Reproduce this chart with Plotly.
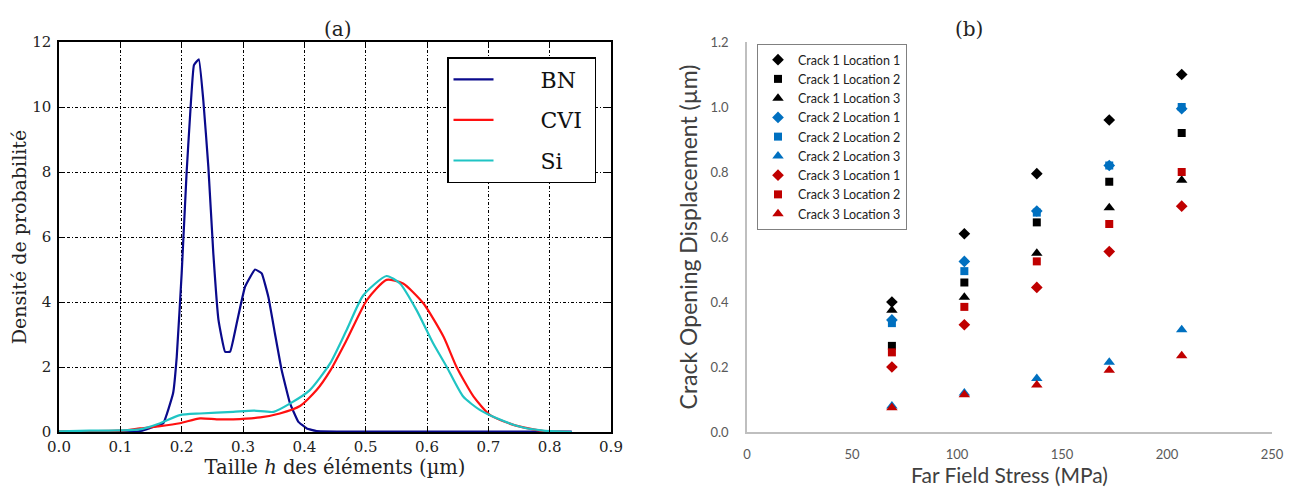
import plotly.graph_objects as go

# ---------------- (a) probability densities ----------------
bn_x = [0.0, 0.05, 0.10, 0.13, 0.148, 0.170, 0.186, 0.192, 0.200, 0.208, 0.2136, 0.220, 0.228,
        0.2353, 0.2435, 0.2516, 0.260, 0.2707, 0.279, 0.2897, 0.3033, 0.3196, 0.3305,
        0.3413, 0.352, 0.363, 0.3767, 0.390, 0.404, 0.42, 0.50, 0.60, 0.70, 0.80, 0.836]
bn_y = [0.0, 0.0, 0.0, 0.02, 0.12, 0.27, 1.19, 2.32, 4.88, 7.96, 9.70, 11.29, 11.47,
        10.2, 8.16, 5.5, 3.45, 2.47, 2.47, 3.34, 4.47, 5.0, 4.88,
        4.16, 3.04, 1.91, 0.88, 0.32, 0.11, 0.03, 0.01, 0.01, 0.01, 0.01, 0.01]

cvi_x = [0.0, 0.05, 0.10, 0.132, 0.165, 0.197, 0.23, 0.257, 0.284, 0.328, 0.36, 0.393,
         0.42, 0.442, 0.469, 0.502, 0.534, 0.561, 0.594, 0.627, 0.648, 0.676, 0.703,
         0.741, 0.79, 0.833]
cvi_y = [0.02, 0.03, 0.04, 0.11, 0.18, 0.27, 0.42, 0.39, 0.39, 0.45, 0.57, 0.80,
         1.29, 1.88, 2.83, 4.06, 4.68, 4.57, 3.96, 2.93, 2.01, 1.09, 0.52,
         0.22, 0.03, 0.0]

si_x = [0.0, 0.05, 0.10, 0.132, 0.165, 0.197, 0.23, 0.284, 0.317, 0.35, 0.377, 0.409,
        0.442, 0.469, 0.496, 0.534, 0.556, 0.583, 0.610, 0.632, 0.659, 0.686, 0.714,
        0.752, 0.79, 0.836]
si_y = [0.02, 0.04, 0.05, 0.08, 0.27, 0.52, 0.57, 0.62, 0.66, 0.62, 0.88, 1.29,
        2.11, 3.14, 4.2, 4.8, 4.57, 3.75, 2.73, 2.01, 1.09, 0.68, 0.42,
        0.16, 0.04, 0.0]

# ---------------- (b) crack opening displacement ----------------
stress = [69, 103.5, 138, 172.5, 207]
c1_l1 = [0.40, 0.61, 0.795, 0.96, 1.10]
c1_l2 = [0.265, 0.46, 0.645, 0.77, 0.92]
c1_l3 = [0.375, 0.415, 0.55, 0.69, 0.775]
c2_l1 = [0.345, 0.525, 0.68, 0.82, 0.995]
c2_l2 = [0.335, 0.495, 0.675, 0.82, 1.0]
c2_l3 = [0.08, 0.12, 0.165, 0.215, 0.315]
c3_l1 = [0.20, 0.33, 0.445, 0.555, 0.695]
c3_l2 = [0.245, 0.385, 0.525, 0.64, 0.80]
c3_l3 = [0.075, 0.115, 0.145, 0.19, 0.235]

series_b = [
    ("Crack 1 Location 1", c1_l1, "diamond", "black"),
    ("Crack 1 Location 2", c1_l2, "square", "black"),
    ("Crack 1 Location 3", c1_l3, "triangle-up", "black"),
    ("Crack 2 Location 1", c2_l1, "diamond", "#0070C0"),
    ("Crack 2 Location 2", c2_l2, "square", "#0070C0"),
    ("Crack 2 Location 3", c2_l3, "triangle-up", "#0070C0"),
    ("Crack 3 Location 1", c3_l1, "diamond", "#C00000"),
    ("Crack 3 Location 2", c3_l2, "square", "#C00000"),
    ("Crack 3 Location 3", c3_l3, "triangle-up", "#C00000"),
]

SERIF = "DejaVu Serif"
SANS = "Lato"
SIZES = {"diamond": 9, "square": 8, "triangle-up": 10}

W, H, OFF = 1304, 492, 8  # page body margin offsets the figure by ~8px


def px(x):
    return (x - OFF) / W


def py(y):
    return (H - (y - OFF)) / H


fig = go.Figure()

for name, xs, ys, col in [("BN", bn_x, bn_y, "#0a0a8c"), ("CVI", cvi_x, cvi_y, "#ff1010"),
                          ("Si", si_x, si_y, "#1fc4c4")]:
    fig.add_trace(go.Scatter(
        x=xs, y=ys, mode="lines", name="      " + name + " ",
        line=dict(color=col, width=2.2, shape="spline",
                  smoothing=0.6 if name != "BN" else 0.3),
        xaxis="x", yaxis="y", legend="legend", legendgroup=name,
    ))

for name, ys, sym, col in series_b:
    fig.add_trace(go.Scatter(
        x=stress, y=ys, mode="markers", name=name,
        marker=dict(symbol=sym, color=col, size=SIZES[sym]),
        xaxis="x2", yaxis="y2", legend="legend2",
    ))

grid_dash = "3px,2px,1px,2px"
Y_DOM = [py(432), py(42)]

fig.update_layout(
    width=W, height=H,
    margin=dict(l=0, r=0, t=0, b=0, autoexpand=False),
    paper_bgcolor="white", plot_bgcolor="white",
    showlegend=True,
    xaxis=dict(domain=[px(59), px(611)], range=[0, 0.9], anchor="y", automargin=False,
               tickvals=[i / 10 for i in range(10)],
               ticktext=[f"{i / 10:.1f}" for i in range(10)],
               showline=True, linecolor="black", linewidth=1.5, mirror="allticks",
               ticks="inside", ticklen=5, tickcolor="black",
               showgrid=True, gridcolor="black", gridwidth=1, griddash=grid_dash,
               zeroline=False, ticklabelstandoff=0,
               tickfont=dict(family=SERIF, size=15, color="#222"),
               title=dict(text="Taille <i>h</i> des éléments (µm)",
                          font=dict(family=SERIF, size=19.5, color="#222"), standoff=6)),
    yaxis=dict(domain=Y_DOM, range=[0, 12], anchor="x", automargin=False,
               tickvals=list(range(0, 13, 2)),
               showline=True, linecolor="black", linewidth=1.5, mirror="allticks",
               ticks="inside", ticklen=5, tickcolor="black",
               showgrid=True, gridcolor="black", gridwidth=1, griddash=grid_dash,
               zeroline=False, ticklabelstandoff=3,
               tickfont=dict(family=SERIF, size=15, color="#222"),
               title=dict(text="Densité de probabilité",
                          font=dict(family=SERIF, size=19, color="#222"), standoff=6)),
    xaxis2=dict(domain=[px(747), px(1272)], range=[0, 250], anchor="y2", automargin=False,
                tickvals=[0, 50, 100, 150, 200, 250],
                showline=True, linecolor="#bfbfbf", linewidth=1.5,
                ticks="", showgrid=False, zeroline=False,
                ticklabelstandoff=10,
                tickfont=dict(family=SANS, size=13, color="#595959"),
                title=dict(text="Far Field Stress (MPa)",
                           font=dict(family=SANS, size=21, color="#404040"), standoff=6)),
    yaxis2=dict(domain=Y_DOM, range=[0, 1.2], anchor="x2", automargin=False,
                tickvals=[0, 0.2, 0.4, 0.6, 0.8, 1.0, 1.2], tickformat=".1f",
                showline=True, linecolor="#bfbfbf", linewidth=1.5,
                ticks="", showgrid=False, zeroline=False,
                ticklabelstandoff=14,
                tickfont=dict(family=SANS, size=13, color="#595959"),
                title=dict(text="Crack Opening Displacement (µm)",
                           font=dict(family=SANS, size=23, color="#404040"), standoff=6)),
    legend=dict(x=px(447), y=py(57), xanchor="left", yanchor="top",
                bgcolor="white", bordercolor="black", borderwidth=1.5,
                font=dict(family=SERIF, size=22, color="#111"),
                traceorder="grouped", tracegroupgap=9, itemwidth=40),
    legend2=dict(x=px(757), y=py(44), xanchor="left", yanchor="top",
                 bgcolor="white", bordercolor="#808080", borderwidth=1,
                 font=dict(family=SANS, size=12.5, color="#222"),
                 tracegroupgap=0, itemwidth=30),
    annotations=[
        dict(text="(a)", x=px(322), y=py(15), xref="paper", yref="paper",
             showarrow=False, font=dict(family=SERIF, size=20, color="#222")),
        dict(text="(b)", x=px(985), y=py(15), xref="paper", yref="paper",
             showarrow=False, font=dict(family=SERIF, size=20, color="#222")),
    ],
)

fig.write_html("out.html")
